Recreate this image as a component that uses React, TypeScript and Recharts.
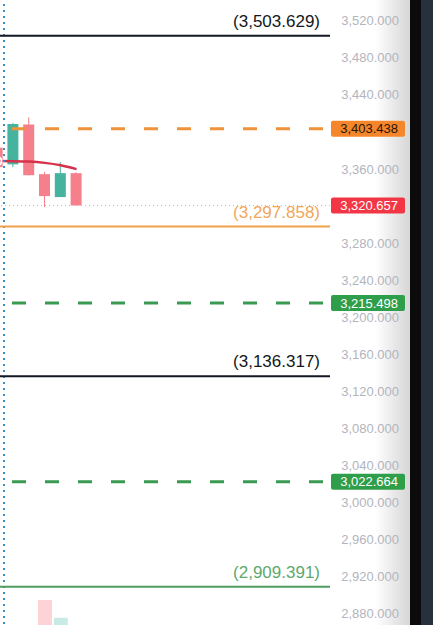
import React from 'react';
import { ComposedChart, Bar, Line, XAxis, YAxis, ReferenceLine, Cell } from 'recharts';

// candles (index 0 is the one cut off at the left edge)
const candleIndex = [0, 1, 2, 3, 4, 5];
const openValues = [3383, 3365, 3408, 3354.4, 3329.7, 3355.5];
const closeValues = [3362, 3408.5, 3353.3, 3330.8, 3355.5, 3320.657];
const highValues = [3385, 3409.5, 3415.7, 3357, 3367.3, 3356.5];
const lowValues = [3360, 3362, 3353, 3319, 3329.7, 3320.657];
const maValues = [3368.5, 3368.4, 3368, 3366.6, 3364, 3359.8];
const volumeValues = [null, null, null, 91, 64, null];

// the axis hides 3,400 and 3,320 behind the price badges
const priceTicks = [2880, 2920, 2960, 3000, 3040, 3080, 3120, 3160, 3200, 3240, 3280, 3360, 3440, 3480, 3520];

const levelValues = [3503.629, 3297.858, 3136.317, 2909.391];
const levelLabels = ['(3,503.629)', '(3,297.858)', '(3,136.317)', '(2,909.391)'];

const badgeValues = [3403.438, 3215.498, 3022.664];
const badgeLabels = ['3,403.438', '3,215.498', '3,022.664'];

const lastPrice = 3320.657;
const lastPriceLabel = '3,320.657';

const sessionMarks = [0.41];

const data = candleIndex.map((i, k) => ({
  i,
  open: openValues[k],
  close: closeValues[k],
  high: highValues[k],
  low: lowValues[k],
  range: [lowValues[k], highValues[k]],
  ma: maValues[k],
  vol: volumeValues[k],
}));

const FONT = "'Liberation Sans', Arial, sans-serif";
const UP = '#45b39d';
const DOWN = '#f5808c';

const levelStyle = [
  { line: '#131722', text: '#131722' },
  { line: '#f0a24b', text: '#f2a65a' },
  { line: '#131722', text: '#131722' },
  { line: '#4e9b62', text: '#5ea86f' },
];
const badgeStyle = [
  { line: '#f0923a', fill: '#f5862b', text: '#2a1500' },
  { line: '#3a9a52', fill: '#2f9e4a', text: '#ffffff' },
  { line: '#3a9a52', fill: '#2f9e4a', text: '#ffffff' },
];

const Candle = (props: any) => {
  const { x, y, width, height, payload } = props;
  const { open, close, high, low } = payload;
  const top = Math.min(y, y + height);
  const h = Math.abs(height);
  const ppu = high > low ? h / (high - low) : 0;
  const py = (v: number) => top + (high - v) * ppu;
  const color = close >= open ? UP : DOWN;
  const bodyTop = py(Math.max(open, close));
  const bodyBot = py(Math.min(open, close));
  const cx = x + width / 2;
  return (
    <g>
      <line x1={cx} x2={cx} y1={top} y2={top + h} stroke={color} strokeWidth={1} />
      <rect x={x} y={bodyTop} width={width} height={Math.max(1, bodyBot - bodyTop)} fill={color} />
    </g>
  );
};

const PriceTick = (props: any) => {
  const { x, y, payload } = props;
  return (
    <text x={x + 61} y={y} dy="0.35em" textAnchor="end" fill="#b2b5be" fontSize={13} fontFamily={FONT}>
      {payload.value.toLocaleString('en-US', { minimumFractionDigits: 3, maximumFractionDigits: 3 })}
    </text>
  );
};

const LevelLabel = (props: any) => {
  const { viewBox, text, color } = props;
  return (
    <text x={viewBox.x + viewBox.width - 10} y={viewBox.y - 9} textAnchor="end" fill={color} fontSize={17} fontFamily={FONT}>
      {text}
    </text>
  );
};

const Badge = (props: any) => {
  const { viewBox, text, fill, color } = props;
  const right = viewBox.x + viewBox.width;
  return (
    <g>
      <rect x={right + 1} y={viewBox.y - 8} width={74} height={16} rx={2} fill={fill} />
      <text x={right + 68} y={viewBox.y} dy="0.36em" textAnchor="end" fill={color} fontSize={13} fontFamily={FONT}>
        {text}
      </text>
    </g>
  );
};

export default function App() {
  return (
    <div style={{ position: 'fixed', left: 0, top: 0, width: 433, height: 625, overflow: 'hidden', background: '#ffffff', fontFamily: FONT }}>
      <div style={{ position: 'absolute', left: 375, top: 0, width: 35, height: 625, background: 'linear-gradient(to right, rgba(0,0,0,0), rgba(0,0,0,0.16))' }} />
      <div style={{ position: 'absolute', left: 410, top: 0, width: 11, height: 625, background: '#0b0b0b' }} />
      <div style={{ position: 'absolute', left: 421, top: 0, width: 12, height: 625, background: '#26313d' }} />
      <div style={{ position: 'absolute', left: 0, top: 0 }}>
        <ComposedChart width={410} height={660} data={data} margin={{ top: 0, right: 0, bottom: 0, left: 0 }}>
          <XAxis xAxisId="t" type="number" dataKey="i" domain={[0.158, 21.044]} allowDataOverflow hide />
          <XAxis xAxisId="v" type="number" dataKey="i" domain={[0.158, 21.044]} allowDataOverflow hide />
          <YAxis
            yAxisId="price"
            orientation="right"
            width={80}
            domain={[2830.3, 3542.3]}
            ticks={priceTicks}
            allowDataOverflow
            axisLine={false}
            tickLine={false}
            tick={<PriceTick />}
            interval={0}
          />
          <YAxis yAxisId="vol" hide domain={[0, 1000]} />

          <Bar xAxisId="v" yAxisId="vol" dataKey="vol" barSize={14} isAnimationActive={false}>
            {data.map((d, k) => (
              <Cell key={k} fill={d.close >= d.open ? '#c9ebe5' : '#fdd3d7'} />
            ))}
          </Bar>
          <Bar xAxisId="t" yAxisId="price" dataKey="range" barSize={11} shape={<Candle />} isAnimationActive={false} />
          <Line xAxisId="t" yAxisId="price" dataKey="ma" type="monotone" stroke="#d6314a" strokeWidth={2.5} dot={false} isAnimationActive={false} />

          {sessionMarks.map((m, k) => (
            <ReferenceLine key={'s' + k} xAxisId="t" yAxisId="price" x={m} stroke="#3a8fc4" strokeWidth={2} strokeDasharray="2 4" />
          ))}

          <ReferenceLine
            xAxisId="t"
            yAxisId="price"
            y={lastPrice}
            stroke="#f4a3ab"
            strokeWidth={1}
            strokeDasharray="1 3"
            label={<Badge text={lastPriceLabel} fill="#f23645" color="#ffffff" />}
          />

          {levelValues.map((v, k) => (
            <ReferenceLine
              key={'l' + k}
              xAxisId="t"
              yAxisId="price"
              y={v}
              stroke={levelStyle[k].line}
              strokeWidth={2}
              label={<LevelLabel text={levelLabels[k]} color={levelStyle[k].text} />}
            />
          ))}

          {badgeValues.map((v, k) => (
            <ReferenceLine
              key={'b' + k}
              xAxisId="t"
              yAxisId="price"
              y={v}
              stroke={badgeStyle[k].line}
              strokeWidth={3}
              strokeDasharray="14 19"
              strokeDashoffset={26}
              label={<Badge text={badgeLabels[k]} fill={badgeStyle[k].fill} color={badgeStyle[k].text} />}
            />
          ))}
        </ComposedChart>
      </div>
    </div>
  );
}
